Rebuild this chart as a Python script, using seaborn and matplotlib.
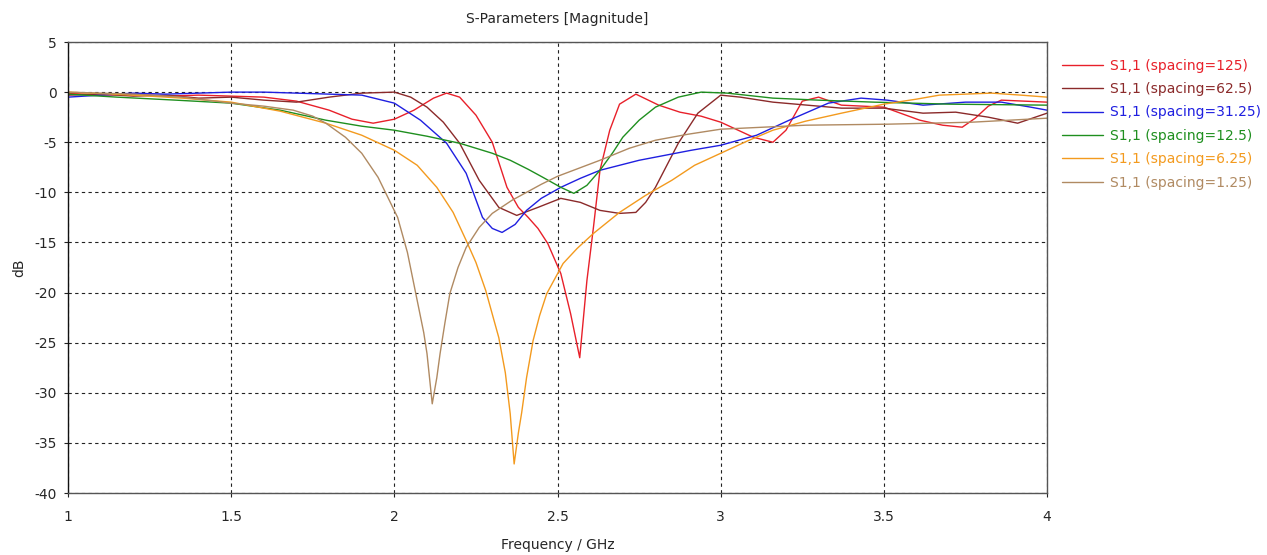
import pandas as pd
import seaborn as sns
import matplotlib
matplotlib.use('Agg')
import matplotlib.pyplot as plt

# S11 curves (frequency in GHz, magnitude in dB)
f_125 = [1.0, 1.1, 1.2, 1.3, 1.4, 1.5, 1.6, 1.7, 1.8, 1.87, 1.935, 2.0, 2.06, 2.12, 2.16, 2.2, 2.25,
         2.3, 2.32, 2.345, 2.38, 2.41, 2.44, 2.47, 2.51, 2.54, 2.568, 2.59, 2.61, 2.63, 2.66, 2.69,
         2.74, 2.81, 2.875, 2.94, 3.0, 3.1, 3.16, 3.2, 3.25, 3.3, 3.37, 3.5, 3.61, 3.68, 3.74, 3.78,
         3.82, 3.86, 3.93, 4.0]
s_125 = [-0.1, -0.3, -0.2, -0.4, -0.3, -0.4, -0.5, -0.9, -1.8, -2.7, -3.1, -2.7, -1.8, -0.6, -0.1,
         -0.5, -2.3, -5.0, -7.0, -9.5, -11.5, -12.5, -13.6, -15.1, -18.1, -22.1, -26.5, -18.8, -13.5,
         -7.8, -3.8, -1.2, -0.2, -1.3, -2.0, -2.4, -3.0, -4.5, -5.0, -3.8, -0.9, -0.5, -1.3, -1.5,
         -2.8, -3.3, -3.5, -2.6, -1.4, -0.8, -0.9, -1.0]

f_62 = [1.0, 1.1, 1.2, 1.3, 1.4, 1.5, 1.6, 1.7, 1.8, 1.9, 2.0, 2.05, 2.1, 2.15, 2.2, 2.26, 2.32,
        2.375, 2.44, 2.51, 2.57, 2.63, 2.69, 2.74, 2.77, 2.8, 2.87, 2.93, 3.0, 3.06, 3.16, 3.37,
        3.5, 3.62, 3.72, 3.82, 3.91, 4.0]
s_62 = [-0.3, -0.2, -0.4, -0.3, -0.6, -0.5, -0.8, -1.0, -0.5, -0.1, 0.0, -0.5, -1.5, -3.0, -5.1,
        -8.8, -11.5, -12.3, -11.5, -10.6, -11.0, -11.8, -12.1, -12.0, -11.0, -9.5, -5.1, -2.1,
        -0.3, -0.5, -1.0, -1.6, -1.6, -2.1, -2.0, -2.5, -3.1, -2.1]

f_31 = [1.0, 1.1, 1.2, 1.3, 1.4, 1.5, 1.6, 1.7, 1.8, 1.9, 2.0, 2.08, 2.16, 2.22, 2.27, 2.3, 2.33,
        2.37, 2.405, 2.45, 2.51, 2.57, 2.63, 2.75, 2.91, 3.0, 3.11, 3.21, 3.33, 3.43, 3.51, 3.62,
        3.75, 3.86, 3.95, 4.0]
s_31 = [-0.5, -0.3, -0.1, -0.2, -0.1, 0.0, 0.0, -0.1, -0.2, -0.3, -1.1, -2.8, -5.1, -8.1, -12.5,
        -13.6, -14.0, -13.2, -11.8, -10.6, -9.5, -8.6, -7.8, -6.8, -5.8, -5.3, -4.3, -2.8, -1.1,
        -0.6, -0.8, -1.3, -1.0, -1.0, -1.5, -1.8]

f_12 = [1.0, 1.15, 1.33, 1.5, 1.65, 1.79, 1.9, 2.0, 2.1, 2.2, 2.3, 2.355, 2.41, 2.455, 2.51, 2.55,
        2.59, 2.63, 2.67, 2.7, 2.75, 2.8, 2.87, 2.94, 3.02, 3.16, 3.3, 3.47, 3.7, 4.0]
s_12 = [-0.2, -0.5, -0.8, -1.1, -1.8, -2.8, -3.4, -3.8, -4.4, -5.1, -6.1, -6.8, -7.7, -8.5, -9.5,
        -10.1, -9.3, -7.8, -6.0, -4.5, -2.8, -1.5, -0.5, 0.0, -0.1, -0.6, -0.8, -1.0, -1.2, -1.3]

f_6 = [1.0, 1.2, 1.35, 1.5, 1.65, 1.79, 1.9, 2.0, 2.07, 2.13, 2.18, 2.22, 2.25, 2.28, 2.32, 2.34,
       2.355, 2.367, 2.38, 2.39, 2.405, 2.425, 2.445, 2.467, 2.517, 2.56, 2.61, 2.69, 2.77, 2.85,
       2.92, 3.0, 3.08, 3.16, 3.26, 3.37, 3.5, 3.6, 3.67, 3.75, 3.83, 3.92, 4.0]
s_6 = [0.0, -0.3, -0.6, -1.0, -1.9, -3.1, -4.3, -5.8, -7.3, -9.5, -12.0, -14.8, -17.0, -19.8, -24.5,
       -28.0, -32.1, -37.1, -34.0, -32.0, -28.5, -24.8, -22.3, -20.1, -17.1, -15.6, -14.1, -12.0,
       -10.3, -8.8, -7.3, -6.1, -4.9, -3.8, -2.9, -2.1, -1.2, -0.7, -0.3, -0.2, -0.1, -0.3, -0.5]

f_1 = [1.0, 1.2, 1.35, 1.5, 1.6, 1.69, 1.75, 1.79, 1.85, 1.9, 1.95, 1.98, 2.01, 2.04, 2.07, 2.09,
       2.1, 2.116, 2.13, 2.14, 2.155, 2.17, 2.195, 2.22, 2.26, 2.3, 2.36, 2.45, 2.5, 2.63, 2.72,
       2.8, 2.9, 3.0, 3.13, 3.26, 3.51, 3.77, 4.0]
s_1 = [0.0, -0.2, -0.5, -1.1, -1.4, -1.8, -2.4, -3.1, -4.5, -6.1, -8.5, -10.5, -12.5, -16.0, -20.8,
       -24.0, -26.1, -31.1, -28.5, -26.1, -23.0, -20.1, -17.5, -15.5, -13.5, -12.1, -10.8, -9.2,
       -8.4, -6.8, -5.6, -4.8, -4.2, -3.7, -3.5, -3.3, -3.2, -3.0, -2.6]

labels = ['S1,1 (spacing=125)', 'S1,1 (spacing=62.5)', 'S1,1 (spacing=31.25)',
          'S1,1 (spacing=12.5)', 'S1,1 (spacing=6.25)', 'S1,1 (spacing=1.25)']
colors = ['#e8202a', '#8b2a2a', '#1f1fe0', '#1f8f1f', '#f39a1e', '#b08a62']

x_ticks = [1, 1.5, 2, 2.5, 3, 3.5, 4]
x_tick_labels = ['1', '1.5', '2', '2.5', '3', '3.5', '4']
y_ticks = [5, 0, -5, -10, -15, -20, -25, -30, -35, -40]

frames = []
for lab, f, s in zip(labels,
                     [f_125, f_62, f_31, f_12, f_6, f_1],
                     [s_125, s_62, s_31, s_12, s_6, s_1]):
    frames.append(pd.DataFrame({'freq': f, 'db': s, 'series': lab}))
df = pd.concat(frames, ignore_index=True)

sns.set_theme(style='white')
plt.rcParams['font.family'] = ['DejaVu Sans']
plt.rcParams['axes.unicode_minus'] = False

fig = plt.figure(figsize=(12.67, 5.55), dpi=100)
ax = fig.add_axes([0.0537, 0.1117, 0.7727, 0.8126])

sns.lineplot(data=df, x='freq', y='db', hue='series', hue_order=labels,
             palette=colors, estimator=None, sort=False, linewidth=1.0, ax=ax)

ax.set_xlim(1, 4)
ax.set_ylim(-40, 5)
ax.set_xticks(x_ticks)
ax.set_xticklabels(x_tick_labels)
ax.set_yticks(y_ticks)
ax.tick_params(axis='both', labelsize=10, length=3, width=0.8, color='#222222',
               direction='out', bottom=True, left=True)
ax.tick_params(axis='x', pad=9)
ax.tick_params(axis='y', pad=5)
ax.grid(True, color='#222222', linestyle=(0, (3, 3)), linewidth=0.8)
for sp in ax.spines.values():
    sp.set_color('#555555')
    sp.set_linewidth(1.0)
ax.spines['left'].set_color('#111111')

ax.set_xlabel('Frequency / GHz', fontsize=10, labelpad=10)
ax.set_ylabel('dB', fontsize=10, labelpad=6)
ax.set_title('S-Parameters [Magnitude]', fontsize=10, pad=14)

ax.legend(title=None, loc='upper left', bbox_to_anchor=(1.005, 0.985), frameon=False,
          fontsize=10, labelcolor='linecolor', handlelength=3.0, labelspacing=0.68,
          borderaxespad=0.3, handletextpad=0.5)

fig.savefig('out.png', dpi=100)
print("saved out.png")
